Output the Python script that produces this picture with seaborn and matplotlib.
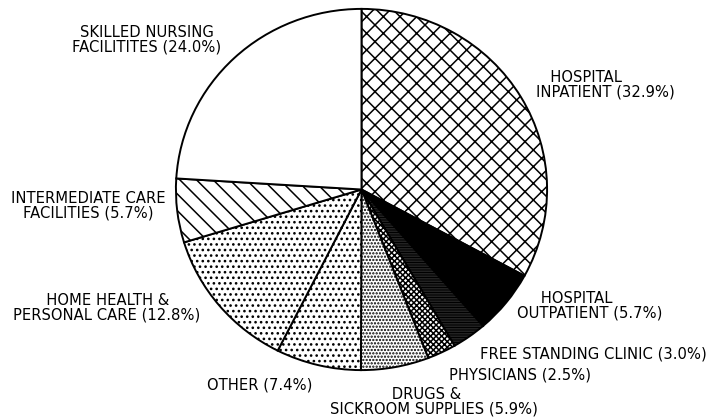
import matplotlib
matplotlib.use("Agg")
import matplotlib.pyplot as plt
import seaborn as sns

# ---- data ----
categories = [
    "HOSPITAL INPATIENT",
    "HOSPITAL OUTPATIENT",
    "FREE STANDING CLINIC",
    "PHYSICIANS",
    "DRUGS & SICKROOM SUPPLIES",
    "OTHER",
    "HOME HEALTH & PERSONAL CARE",
    "INTERMEDIATE CARE FACILITIES",
    "SKILLED NURSING FACILITITES",
]
shares = [32.9, 5.7, 3.0, 2.5, 5.9, 7.4, 12.8, 5.7, 24.0]
hatches = ["xx", "", "----------", "xxxxxx", ".....", "...", "...", "\\\\", ""]
facecolors = ["white", "black", "white", "white", "white", "white", "white", "white", "white"]

# labels: text, anchor x(px), centre y(px), horizontal alignment, line alignment
labels = [
    ("SKILLED NURSING\nFACILITITES (24.0%)", 147, 40, "center", "center"),
    ("   HOSPITAL\nINPATIENT (32.9%)", 536, 85, "left", "left"),
    ("     HOSPITAL\nOUTPATIENT (5.7%)", 517, 306, "left", "left"),
    ("FREE STANDING CLINIC (3.0%)", 593, 354, "center", "center"),
    ("PHYSICIANS (2.5%)", 520, 375, "center", "center"),
    ("             DRUGS &\nSICKROOM SUPPLIES (5.9%)", 330, 402, "left", "left"),
    ("OTHER (7.4%)", 260, 385, "center", "center"),
    ("       HOME HEALTH &\nPERSONAL CARE (12.8%)", 13, 308, "left", "left"),
    ("INTERMEDIATE CARE\nFACILITIES (5.7%)", 88, 206, "center", "center"),
]

sns.set_style("white")
plt.rcParams["font.family"] = ["DejaVu Sans"]
plt.rcParams["hatch.linewidth"] = 1.1

W, H = 714, 420
fig = plt.figure(figsize=(W / 100, H / 100), dpi=100)
fig.patch.set_facecolor("white")

# pie axes: ellipse spanning x 175..548, y 8..371 px
px_l, px_r, px_t, px_b = 175, 548, 8, 371
ax = fig.add_axes([px_l / W, 1 - px_b / H, (px_r - px_l) / W, (px_b - px_t) / H])
wedges, _ = ax.pie(
    shares,
    startangle=90,
    counterclock=False,
    colors=facecolors,
    wedgeprops=dict(edgecolor="black", linewidth=1.4),
)
for w, h in zip(wedges, hatches):
    if h:
        w.set_hatch(h)
ax.set_aspect("auto")
ax.set_xlim(-1.005, 1.005)
ax.set_ylim(-1.005, 1.005)
ax.axis("off")

for text, x, y, ha, ma in labels:
    fig.text(x / W, 1 - y / H, text, ha=ha, va="center", multialignment=ma,
             linespacing=0.92, fontsize=10.6, color="black")

fig.savefig("out.png", dpi=100, facecolor="white")
